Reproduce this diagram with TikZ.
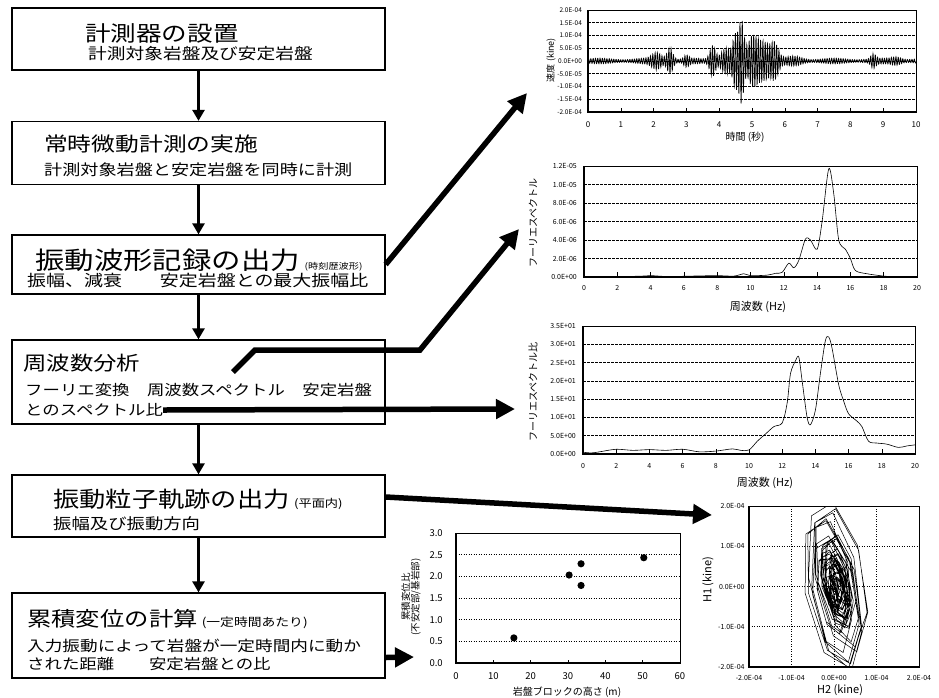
\documentclass[tikz,border=0pt]{standalone}
\usepackage{fontspec}
\usepackage{graphicx}
\setmainfont{Noto Sans CJK JP}
\newfontfamily\jp{Noto Sans CJK JP}
\newfontfamily\num{Noto Sans CJK JP}
\usetikzlibrary{arrows.meta,calc}
\newcommand\fs[1]{\fontsize{#1}{#1}\selectfont}
\newcommand\sx[1]{\scalebox{1.2}[1]{#1}}
\begin{document}
\begin{tikzpicture}[x=1pt,y=-1pt,
  declare function={
    gs(\gt,\gc,\gw)=exp(-min(((\gt-\gc)/\gw)^2,9));
    env(\gt)=0.08+0.03*sin(360*mod(0.7*\gt,1))+0.25*gs(\gt,2.1,0.2)+0.45*gs(\gt,2.5,0.12)+0.15*gs(\gt,3.0,0.1)+0.55*gs(\gt,3.8,0.12)+0.42*gs(\gt,4.2,0.2)+0.9*gs(\gt,4.5,0.12)+1.4*gs(\gt,4.68,0.1)+0.75*gs(\gt,5.0,0.2)+0.7*gs(\gt,5.35,0.3)+0.5*gs(\gt,5.7,0.15)+0.1*gs(\gt,6.3,0.3)+0.2*gs(\gt,8.7,0.1)+0.1*gs(\gt,9.4,0.2);
    oa(\gt)=0.28+0.8*gs(\gt,12,4)+0.45*gs(\gt,26,2.5)+0.1*sin(360*mod(0.23*\gt,1));
  },
  box/.style={draw,line width=1.3pt,minimum width=373pt,inner sep=0pt},
  txt/.style={anchor=west,inner sep=0pt,font=\jp},
  flow/.style={line width=2.6pt,-{Triangle[width=12pt,length=11pt]}},
  bigarrow/.style={line width=5.5pt,-{Triangle[width=19pt,length=19pt]},line join=miter},
  lab/.style={inner sep=0pt,font=\num\fs{7}},
  ttl/.style={inner sep=0pt,font=\jp\fs{10}},
  dgrid/.style={line width=0.7pt,dash pattern=on 2.5pt off 1.5pt},
  pgrid/.style={line width=0.8pt,dash pattern=on 1pt off 1.5pt},
  frame/.style={line width=0.6pt},
  axisl/.style={line width=1.2pt}]
\useasboundingbox (0,0) rectangle (939,697);

% ---------------- flow chart ----------------
\node[box,minimum height=62pt] (b1) at (198.5,39) {};
\node[box,minimum height=63pt] (b2) at (198.5,153) {};
\node[box,minimum height=59pt] (b3) at (198.5,264.5) {};
\node[box,minimum height=84pt] (b4) at (198.5,382) {};
\node[box,minimum height=62pt] (b5) at (198.5,506) {};
\node[box,minimum height=85pt] (b6) at (198.5,635.5) {};

\node[txt] (t1a) at (85,33) {\sx{\fs{21.3}計測器の設置}};
\node[txt] (t1b) at (88,54) {\sx{\fs{15.6}計測対象岩盤及び安定岩盤}};
\node[txt] (t2a) at (44,144) {\sx{\fs{19.8}常時微動計測の実施}};
\node[txt] (t2b) at (44,170) {\sx{\fs{15.1}計測対象岩盤と安定岩盤を同時に計測}};
\node[txt] (t3a) at (35,260) {\sx{\fs{24.5}振動波形記録の出力\,{\fs{8.5}(時刻歴波形)}}};
\node[txt] (t3b) at (27,281) {\sx{\fs{15.8}振幅、減衰　　安定岩盤との最大振幅比}};
\node[txt] (t4a) at (23,363) {\sx{\fs{19.5}周波数分析}};
\node[txt] (t4b) at (25,390) {\sx{\fs{14.5}フーリエ変換　周波数スペクトル　安定岩盤}};
\node[txt] (t4c) at (25,410) {\sx{\fs{14.5}とのスペクトル比}};
\node[txt] (t5a) at (53,499) {\sx{\fs{21.9}振動粒子軌跡の出力\,{\fs{11}(平面内)}}};
\node[txt] (t5b) at (53,524) {\sx{\fs{15.3}振幅及び振動方向}};
\node[txt] (t6a) at (27,619) {\sx{\fs{20.3}累積変位の計算\,{\fs{11.5}(一定時間あたり)}}};
\node[txt] (t6b) at (27,646) {\sx{\fs{14.7}入力振動によって岩盤が一定時間内に動か}};
\node[txt] (t6c) at (27,664) {\sx{\fs{14.5}された距離　　安定岩盤との比}};

\draw[flow] (b1.south) -- (b2.north);
\draw[flow] (b2.south) -- (b3.north);
\draw[flow] (b3.south) -- (b4.north);
\draw[flow] (b4.south) -- (b5.north);
\draw[flow] (b5.south) -- (b6.north);

\coordinate (p1) at (527,93);
\draw[bigarrow] (b3.east) -- (p1);
\coordinate (q0) at (233,372);
\coordinate (q1) at (255,350);
\coordinate (q2) at (420,350);
\coordinate (q3) at (519,229);
\draw[bigarrow] (q0) -- (q1) -- (q2) -- (q3);
\coordinate (r1) at (515,409);
\draw[bigarrow] (t4c.east) -- (r1);
\coordinate (s1) at (712,515);
\draw[bigarrow] ($(b5.east)+(0,-9)$) -- (s1);
\coordinate (u1) at (414,657);
\draw[bigarrow] ($(b6.east)+(0,22)$) -- (u1);

% ---------------- chart 1: velocity ----------------
\begin{scope}[shift={(588pt,-61pt)},x=32.8pt,y=25.5pt]
  \foreach \v in {-1.5,-1,-0.5,0,0.5,1,1.5} \draw[dgrid] (0,\v) -- (10,\v);
  \draw[frame] (0,-2) rectangle (10,2);
  \draw[axisl] (0,2) -- (0,-2) -- (10,-2);
  \foreach \i in {1,...,10} \draw[frame] (\i,-2) -- (\i,-1.85);
  \foreach \v/\l [count=\k] in {2/2.0E-04,1.5/1.5E-04,1/1.0E-04,0.5/5.0E-05,0/0.0E+00,-0.5/-5.0E-05,-1/-1.0E-04,-1.5/-1.5E-04,-2/-2.0E-04}
    \node[lab,anchor=east,font=\num\fs{6.5}] (ay\k) at (-0.18,\v) {\l};
  \foreach \i in {0,...,10} \node[lab,font=\num\fs{8}] (ax\i) at (\i,-2.5) {\i};
  \draw[line width=0.7pt] plot[domain=0:10,samples=1500] (\x,{env(\x)*sin(360*mod(14.3*\x,1))});
\end{scope}
\node[ttl,rotate=90] (at1) at (551,60) {\fs{9}速度 (kine)};
\node[ttl] (at2) at (745,137) {時間 (秒)};

% ---------------- chart 2: Fourier spectrum ----------------
\begin{scope}[shift={(584pt,-277pt)},x=16.65pt,y=9.25pt]
  \foreach \v in {2,4,...,10} \draw[dgrid] (0,\v) -- (20,\v);
  \draw[frame] (0,0) rectangle (20,12);
  \draw[axisl] (0,12) -- (0,0) -- (20,0);
  \foreach \i in {2,4,...,20} \draw[frame] (\i,0) -- (\i,0.5);
  \foreach \v/\l [count=\k] in {0/0.0E+00,2/2.0E-06,4/4.0E-06,6/6.0E-06,8/8.0E-06,10/1.0E-05,12/1.2E-05}
    \node[lab,anchor=east] (by\k) at (-0.42,\v) {\l};
  \foreach \i in {0,2,...,20} \node[lab] (bx\i) at (\i,-1.2) {\i};
  \draw[line width=0.6pt] plot[smooth,tension=0.5] coordinates {(2.5,0.05) (3.5,0.1) (4,0.15) (5,0.05) (6,0.08) (7,0.12) (8,0.15) (9,0.1) (9.6,0.35) (10,0.15) (11,0.2) (11.5,0.4) (11.9,0.5) (12.3,1.5) (12.6,1.0) (12.9,1.8) (13.3,4.1) (13.6,4.0) (14.0,3.0) (14.3,6) (14.7,11.7) (15.0,9) (15.3,4) (15.7,3.0) (16.0,2) (16.3,0.7) (17,0.35) (18,0.1) (18.5,0.05)};
\end{scope}
\node[ttl,rotate=90] (bt1) at (533,223) {フーリエスペクトル};
\node[ttl,font=\jp\fs{11}] (bt2) at (758,307) {周波数 (Hz)};

% ---------------- chart 3: spectral ratio ----------------
\begin{scope}[shift={(583pt,-454pt)},x=16.6pt,y=3.657pt]
  \foreach \v in {5,10,...,30} \draw[dgrid] (0,\v) -- (20,\v);
  \draw[frame] (0,0) rectangle (20,35);
  \draw[axisl] (0,35) -- (0,0) -- (20,0);
  \foreach \i in {2,4,...,20} \draw[frame] (\i,0) -- (\i,1.3);
  \foreach \v/\l [count=\k] in {0/0.0E+00,5/5.0E+00,10/1.0E+01,15/1.5E+01,20/2.0E+01,25/2.5E+01,30/3.0E+01,35/3.5E+01}
    \node[lab,anchor=east] (cy\k) at (-0.42,\v) {\l};
  \foreach \i in {0,2,...,20} \node[lab] (cx\i) at (\i,-3.3) {\i};
  \draw[line width=0.6pt] plot[smooth,tension=0.5] coordinates {(0,0.5) (0.5,0.3) (1,0.6) (2,1.3) (3,1.0) (4,1.2) (5,1.0) (6,1.3) (7,0.6) (8,0.8) (9,1.4) (9.5,1.0) (10,1.1) (10.5,3.5) (11,5.5) (11.5,7.5) (12,8.5) (12.3,14) (12.5,22) (12.8,25.5) (13,26.5) (13.2,20) (13.5,10) (13.7,8) (14,12) (14.3,22) (14.6,31) (14.8,32) (15,29) (15.4,19) (15.7,14.5) (16,11) (16.5,9) (16.8,7.5) (17.2,3.5) (17.7,3.0) (18.3,2.7) (19,1.8) (19.5,2.2) (20,2.5)};
\end{scope}
\node[ttl,rotate=90] (ct1) at (533,392) {フーリエスペクトル比};
\node[ttl,font=\jp\fs{11}] (ct2) at (765,483) {周波数 (Hz)};

% ---------------- chart 4: particle orbit ----------------
\begin{scope}[shift={(834pt,-586.5pt)},x=42.5pt,y=40.25pt]
  \foreach \v in {-1,0,1} {\draw[pgrid] (-2,\v) -- (2,\v); \draw[pgrid] (\v,-2) -- (\v,2);}
  \begin{scope}
    \clip (-2,-2) rectangle (2,2);
    \draw[line width=0.5pt] plot[domain=0:40,samples=281] ({0.6*oa(\x)*sin(360*mod(\x,1))-0.12*oa(\x)*cos(360*mod(\x,1)+20)+0.12*sin(360*mod(0.37*\x,1))+0.04},{1.9*oa(\x)*cos(360*mod(\x,1)+15)+0.25*sin(360*mod(0.29*\x,1))});
  \end{scope}
  \draw[frame] (-2,-2) rectangle (2,2);
  \draw[axisl] (-2,2) -- (-2,-2) -- (2,-2);
  \foreach \v/\l [count=\k] in {2/2.0E-04,1/1.0E-04,0/0.0E+00,-1/-1.0E-04,-2/-2.0E-04}
    \node[lab,anchor=east] (dy\k) at (-2.1,\v) {\l};
  \foreach \v/\l [count=\k] in {-2/-2.0E-04,-1/-1.0E-04,0/0.0E+00,1/1.0E-04,2/2.0E-04}
    \node[lab] (dx\k) at (\v,-2.27) {\l};
\end{scope}
\node[ttl,rotate=90,font=\jp\fs{11}] (dt1) at (708,580) {H1 (kine)};
\node[ttl,font=\jp\fs{11}] (dt2) at (840,690) {H2 (kine)};

% ---------------- chart 5: cumulative displacement ratio ----------------
\begin{scope}[shift={(456pt,-663pt)},x=3.733pt,y=43.33pt]
  \foreach \v in {0.5,1,1.5,2,2.5} \draw[pgrid] (0,\v) -- (60,\v);
  \draw[frame] (0,0) rectangle (60,3);
  \draw[axisl] (0,3) -- (0,0) -- (60,0);
  \foreach \i in {10,20,...,50} \draw[frame] (\i,0) -- (\i,0.06);
  \foreach \v/\l [count=\k] in {0/0.0,0.5/0.5,1/1.0,1.5/1.5,2/2.0,2.5/2.5,3/3.0}
    \node[lab,anchor=east,font=\num\fs{9.5}] (ey\k) at (-3.5,\v) {\l};
  \foreach \i in {0,10,...,60} \node[lab,font=\num\fs{9.5}] (ex\i) at (\i,-0.3) {\i};
  \foreach \px/\py [count=\k] in {15.5/0.58,30.3/2.03,33.5/2.29,33.5/1.79,50.3/2.43}
    \fill (\px,\py) circle[radius=3.6pt];
\end{scope}
\node[ttl,rotate=90,align=center,font=\jp\fs{9.5}] (et1) at (411,597) {累積変位比\\(不安定部/基岩部)};
\node[ttl] (et2) at (567,692) {岩盤ブロックの高さ (m)};
\end{tikzpicture}
\end{document}
